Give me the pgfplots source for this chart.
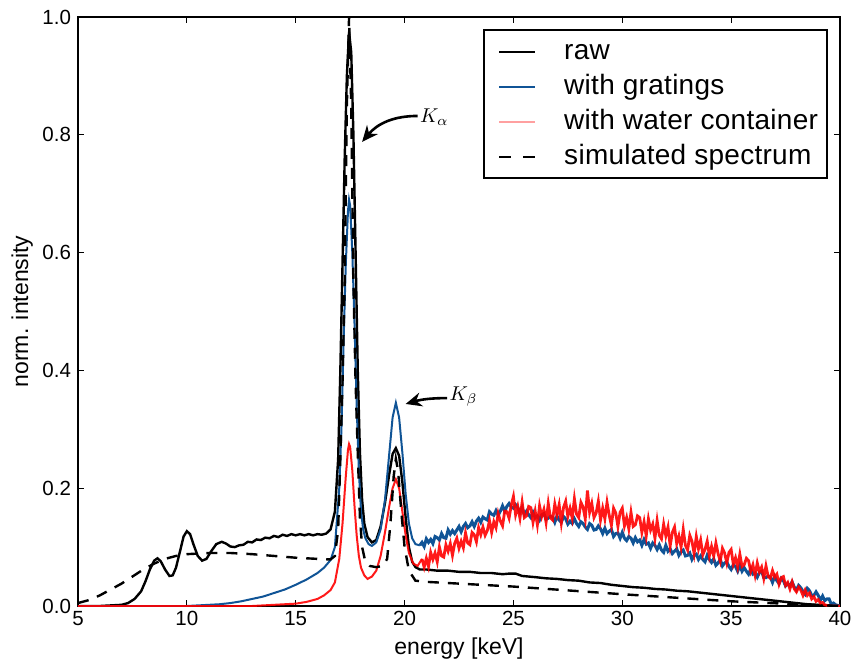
\documentclass[border=0pt]{standalone}
\usepackage{fontspec}
\setmainfont{Liberation Sans}
\usepackage{pgfplots}
\pgfplotsset{compat=1.18}
\usetikzlibrary{arrows.meta}
\definecolor{gblue}{RGB}{16,84,150}
\definecolor{wred}{RGB}{255,0,0}
\definecolor{wpink}{RGB}{255,160,160}
\begin{document}
\begin{tikzpicture}
\useasboundingbox (-39pt,-30pt) rectangle (387pt,303pt);
\begin{axis}[
  at={(0,0)}, anchor=south west,
  scale only axis, width=381pt, height=294.5pt,
  xmin=5, xmax=40, ymin=0, ymax=1,
  xtick={5,10,15,20,25,30,35,40},
  ytick={0,0.2,0.4,0.6,0.8,1},
  yticklabel style={/pgf/number format/fixed,/pgf/number format/fixed zerofill,/pgf/number format/precision=1},
  /pgf/number format/assume math mode=true,
  tick label style={font=\fontsize{10.25}{12}\selectfont},
  xticklabel style={yshift=1pt},
  tick align=inside, major tick length=3pt,
  every tick/.style={black, line width=0.5pt},
  axis line style={line width=1pt},
  xlabel={energy [keV]}, ylabel={norm. intensity},
  label style={font=\fontsize{11.5}{13}\selectfont},
  xlabel style={at={(axis description cs:0.5,0)}, anchor=north, yshift=-12.5pt},
  ylabel style={at={(axis description cs:-0.05,0.5)}, anchor=south},
  legend image code/.code={\path (0pt,0pt); \draw[#1] (3.5pt,0pt) -- (21.5pt,0pt);},
  legend style={at={(1,1)}, anchor=north east, xshift=-6pt, yshift=-6pt,
    draw=black, line width=1pt, inner xsep=3.5pt, inner ysep=3pt,
    row sep=2pt, column sep=13pt,
    font=\fontsize{14}{17}\selectfont\addfontfeature{LetterSpace=1},
    nodes={inner sep=1pt, text height=10.5pt, text depth=3pt}},
  legend cell align=left,
]
\addlegendimage{black, line width=1pt}
\addlegendimage{gblue, line width=1pt}
\addlegendimage{wpink, line width=1pt}
\addlegendimage{black, line width=1pt, dash pattern=on 6pt off 6pt}
\legend{raw, with gratings, with water container, simulated spectrum}

% raw
\addplot[forget plot, black, line width=1.2pt] coordinates {
(5,0)(6,0)(6.5,0.001)(7,0.002)(7.3,0.005)(7.6,0.012)(7.9,0.025)(8.1,0.042)(8.3,0.062)(8.5,0.077)(8.65,0.081)(8.8,0.076)(9.0,0.062)(9.2,0.051)(9.35,0.052)(9.5,0.065)(9.7,0.095)(9.85,0.118)(10.0,0.127)(10.15,0.122)(10.3,0.105)(10.5,0.085)(10.7,0.077)(10.9,0.080)(11.1,0.092)(11.35,0.105)(11.6,0.109)(11.8,0.106)(12.0,0.101)(12.2,0.100)(12.4,0.103)(12.6,0.104)(12.8,0.109)(13,0.108)(13.2,0.113)(13.4,0.112)(13.6,0.116)(13.8,0.115)(14,0.119)(14.2,0.117)(14.4,0.121)(14.6,0.119)(14.8,0.122)(15,0.120)(15.2,0.122)(15.4,0.120)(15.6,0.122)(15.8,0.120)(16,0.122)(16.2,0.121)(16.4,0.123)(16.6,0.130)(16.8,0.160)(16.95,0.25)(17.05,0.40)(17.15,0.58)(17.25,0.76)(17.35,0.90)(17.45,0.975)(17.55,0.94)(17.65,0.80)(17.75,0.60)(17.85,0.40)(17.95,0.26)(18.05,0.18)(18.15,0.14)(18.3,0.117)(18.5,0.108)(18.7,0.112)(18.9,0.135)(19.1,0.175)(19.3,0.225)(19.45,0.258)(19.6,0.268)(19.75,0.255)(19.9,0.21)(20.05,0.15)(20.2,0.10)(20.35,0.075)(20.5,0.066)(20.7,0.062)(21,0.062)(21.5,0.060)(22,0.060)(22.5,0.058)(23,0.058)(23.5,0.056)(24,0.056)(24.5,0.054)(24.8,0.055)(25.1,0.055)(25.4,0.051)(26,0.049)(26.5,0.047)(27,0.046)(27.5,0.044)(28,0.043)(28.5,0.040)(29,0.039)(29.5,0.036)(30,0.034)(30.5,0.032)(31,0.031)(31.5,0.029)(32,0.028)(32.5,0.026)(33,0.025)(33.5,0.023)(34,0.021)(34.5,0.019)(35,0.017)(35.5,0.015)(36,0.013)(36.5,0.011)(37,0.009)(37.5,0.007)(38,0.005)(38.5,0.003)(39,0.002)(39.5,0.001)(40,0)
};

% with gratings (peaks)
\addplot[forget plot, gblue, line width=1pt] coordinates {
(5,0)(10,0)(10.5,0.001)(11,0.002)(11.5,0.003)(12,0.005)(12.5,0.008)(13,0.012)(13.5,0.016)(14,0.022)(14.5,0.028)(15,0.036)(15.5,0.045)(16,0.056)(16.3,0.065)(16.6,0.078)(16.8,0.100)(17.0,0.20)(17.1,0.30)(17.2,0.45)(17.3,0.58)(17.4,0.67)(17.45,0.69)(17.5,0.68)(17.6,0.60)(17.7,0.48)(17.8,0.34)(17.9,0.23)(18.0,0.16)(18.1,0.13)(18.2,0.115)(18.35,0.105)(18.5,0.102)(18.7,0.108)(18.9,0.13)(19.1,0.18)(19.3,0.26)(19.45,0.32)(19.6,0.345)(19.75,0.32)(19.9,0.26)(20.05,0.19)(20.2,0.14)(20.35,0.115)(20.5,0.105)(20.7,0.103)
};
% with gratings (continuum, noisy)
\addplot[forget plot, gblue, line width=1.5pt] coordinates {
(20.7,0.103)(20.8,0.108)(20.9,0.101)(21.0,0.114)(21.1,0.108)(21.2,0.113)(21.3,0.106)(21.4,0.118)(21.5,0.116)(21.6,0.112)(21.7,0.123)
(21.8,0.116)(21.9,0.115)(22.0,0.129)(22.1,0.122)(22.2,0.128)(22.3,0.123)(22.4,0.129)(22.5,0.135)(22.6,0.126)(22.7,0.135)
(22.8,0.140)(22.9,0.133)(23.0,0.136)(23.1,0.143)(23.2,0.135)(23.3,0.144)(23.4,0.149)(23.5,0.142)(23.6,0.151)(23.7,0.148)
(23.8,0.146)(23.9,0.160)(24.0,0.156)(24.1,0.154)(24.2,0.162)(24.3,0.154)(24.4,0.161)(24.5,0.170)(24.6,0.161)(24.7,0.169)
(24.8,0.174)(24.9,0.168)(25.0,0.166)(25.1,0.172)(25.2,0.167)(25.3,0.159)(25.4,0.167)(25.5,0.155)(25.6,0.161)(25.7,0.155)
(25.8,0.150)(25.9,0.159)(26.0,0.150)(26.1,0.153)(26.2,0.146)(26.3,0.155)(26.4,0.157)(26.5,0.147)(26.6,0.149)(26.7,0.152)
(26.8,0.151)(26.9,0.142)(27.0,0.153)(27.1,0.146)(27.2,0.142)(27.3,0.152)(27.4,0.148)(27.5,0.139)(27.6,0.144)(27.7,0.140)
(27.8,0.148)(27.9,0.140)(28.0,0.135)(28.1,0.143)(28.2,0.140)(28.3,0.134)(28.4,0.130)(28.5,0.140)(28.6,0.137)(28.7,0.129)
(28.8,0.130)(28.9,0.136)(29.0,0.131)(29.1,0.123)(29.2,0.132)(29.3,0.123)(29.4,0.127)(29.5,0.130)(29.6,0.118)(29.7,0.123)
(29.8,0.124)(29.9,0.115)(30.0,0.125)(30.1,0.115)(30.2,0.111)(30.3,0.118)(30.4,0.115)(30.5,0.107)(30.6,0.116)(30.7,0.109)
(30.8,0.112)(30.9,0.103)(31.0,0.113)(31.1,0.105)(31.2,0.107)(31.3,0.098)(31.4,0.107)(31.5,0.103)(31.6,0.096)(31.7,0.104)
(31.8,0.095)(31.9,0.091)(32.0,0.103)(32.1,0.093)(32.2,0.097)(32.3,0.089)(32.4,0.093)(32.5,0.097)(32.6,0.086)(32.7,0.092)
(32.8,0.095)(32.9,0.085)(33.0,0.086)(33.1,0.090)(33.2,0.079)(33.3,0.086)(33.4,0.088)(33.5,0.079)(33.6,0.085)(33.7,0.079)
(33.8,0.075)(33.9,0.086)(34.0,0.079)(34.1,0.074)(34.2,0.080)(34.3,0.069)(34.4,0.073)(34.5,0.079)(34.6,0.068)(34.7,0.073)
(34.8,0.075)(34.9,0.067)(35.0,0.062)(35.1,0.070)(35.2,0.067)(35.3,0.059)(35.4,0.069)(35.5,0.059)(35.6,0.065)(35.7,0.059)
(35.8,0.054)(35.9,0.063)(36.0,0.054)(36.1,0.056)(36.2,0.049)(36.3,0.057)(36.4,0.059)(36.5,0.048)(36.6,0.048)(36.7,0.051)
(36.8,0.049)(36.9,0.040)(37.0,0.050)(37.1,0.043)(37.2,0.038)(37.3,0.047)(37.4,0.043)(37.5,0.034)(37.6,0.038)(37.7,0.034)
(37.8,0.041)(37.9,0.032)(38.0,0.027)(38.1,0.035)(38.2,0.031)(38.3,0.025)(38.4,0.020)(38.5,0.030)(38.6,0.026)(38.7,0.018)
(38.8,0.018)(38.9,0.024)(39.0,0.018)(39.1,0.010)(39.2,0.017)(39.3,0.009)(39.4,0.012)(39.5,0.012)(39.6,0.003)(39.7,0.005)(39.8,0.002)(39.9,0.001)(40.0,0.000)
};

% with water container (peaks)
\addplot[forget plot, wred, opacity=0.9, line width=1pt] coordinates {
(5,0)(13,0)(13.5,0.001)(14,0.002)(14.5,0.003)(15,0.004)(15.5,0.007)(16,0.012)(16.3,0.018)(16.6,0.027)(16.8,0.040)(17.0,0.080)(17.15,0.14)(17.3,0.22)(17.4,0.265)(17.45,0.275)(17.5,0.27)(17.6,0.23)(17.7,0.17)(17.8,0.12)(17.9,0.085)(18.0,0.065)(18.15,0.052)(18.3,0.046)(18.5,0.050)(18.7,0.060)(18.9,0.085)(19.1,0.125)(19.3,0.17)(19.45,0.20)(19.6,0.215)(19.75,0.20)(19.9,0.16)(20.05,0.12)(20.2,0.09)(20.4,0.072)(20.6,0.068)(20.8,0.080)
};
% with water container (continuum, noisy)
\addplot[forget plot, wred, opacity=0.9, line width=1.4pt] coordinates {
(20.8,0.080)(20.9,0.066)(21.0,0.081)(21.1,0.067)(21.2,0.091)(21.3,0.079)(21.4,0.090)(21.5,0.075)(21.6,0.100)(21.7,0.085)
(21.8,0.083)(21.9,0.104)(22.0,0.093)(22.1,0.106)(22.2,0.086)(22.3,0.106)(22.4,0.115)(22.5,0.098)(22.6,0.110)(22.7,0.099)
(22.8,0.124)(22.9,0.107)(23.0,0.104)(23.1,0.125)(23.2,0.121)(23.3,0.109)(23.4,0.133)(23.5,0.121)(23.6,0.134)(23.7,0.120)
(23.8,0.128)(23.9,0.145)(24.0,0.125)(24.1,0.143)(24.2,0.133)(24.3,0.157)(24.4,0.144)(24.5,0.136)(24.6,0.161)(24.7,0.160)
(24.8,0.149)(24.9,0.171)(25.0,0.186)(25.1,0.155)(25.2,0.169)(25.3,0.149)(25.4,0.176)(25.5,0.150)(25.6,0.153)(25.7,0.169)
(25.8,0.167)(25.9,0.142)(26.0,0.161)(26.1,0.138)(26.2,0.170)(26.3,0.152)(26.4,0.164)(26.5,0.142)(26.6,0.174)(26.7,0.150)
(26.8,0.146)(26.9,0.173)(27.0,0.155)(27.1,0.172)(27.2,0.141)(27.3,0.167)(27.4,0.178)(27.5,0.152)(27.6,0.166)(27.7,0.149)
(27.8,0.182)(27.9,0.156)(28.0,0.150)(28.1,0.176)(28.2,0.168)(28.3,0.148)(28.4,0.196)(28.5,0.159)(28.6,0.174)(28.7,0.150)
(28.8,0.158)(28.9,0.178)(29.0,0.146)(29.1,0.166)(29.2,0.148)(29.3,0.176)(29.4,0.154)(29.5,0.137)(29.6,0.166)(29.7,0.158)
(29.8,0.135)(29.9,0.159)(30.0,0.166)(30.1,0.136)(30.2,0.150)(30.3,0.131)(30.4,0.159)(30.5,0.135)(30.6,0.138)(30.7,0.153)
(30.8,0.150)(30.9,0.125)(31.0,0.143)(31.1,0.119)(31.2,0.148)(31.3,0.129)(31.4,0.139)(31.5,0.115)(31.6,0.145)(31.7,0.120)
(31.8,0.114)(31.9,0.139)(32.0,0.119)(32.1,0.134)(32.2,0.102)(32.3,0.125)(32.4,0.134)(32.5,0.106)(32.6,0.119)(32.7,0.100)
(32.8,0.130)(32.9,0.103)(33.0,0.095)(33.1,0.120)(33.2,0.110)(33.3,0.089)(33.4,0.118)(33.5,0.097)(33.6,0.112)(33.7,0.087)
(33.8,0.096)(33.9,0.110)(34.0,0.085)(34.1,0.101)(34.2,0.085)(34.3,0.107)(34.4,0.089)(34.5,0.076)(34.6,0.098)(34.7,0.090)
(34.8,0.073)(34.9,0.091)(35.0,0.096)(35.1,0.071)(35.2,0.082)(35.3,0.066)(35.4,0.088)(35.5,0.067)(35.6,0.070)(35.7,0.081)
(35.8,0.077)(35.9,0.059)(36.0,0.070)(36.1,0.052)(36.2,0.073)(36.3,0.058)(36.4,0.066)(36.5,0.047)(36.6,0.068)(36.7,0.050)
(36.8,0.047)(36.9,0.060)(37.0,0.049)(37.1,0.054)(37.2,0.037)(37.3,0.048)(37.4,0.050)(37.5,0.035)(37.6,0.040)(37.7,0.029)
(37.8,0.041)(37.9,0.029)(38.0,0.024)(38.1,0.032)(38.2,0.027)(38.3,0.018)(38.4,0.027)(38.5,0.018)(38.6,0.022)(38.7,0.012)
(38.8,0.016)(38.9,0.008)(39.0,0.011)(39.1,0.005)(39.2,0.006)(39.3,0.002)(39.4,0.001)(39.5,0.000)(40,0)
};

% simulated spectrum
\addplot[forget plot, black, line width=1.2pt, dash pattern=on 5.5pt off 4.5pt] coordinates {
(5,0.005)(5.5,0.010)(6,0.018)(6.5,0.028)(7,0.038)(7.5,0.050)(8,0.062)(8.5,0.072)(9,0.080)(9.5,0.085)(10,0.088)(11,0.090)(12,0.090)(13,0.088)(14,0.085)(15,0.082)(16,0.080)(16.6,0.079)(16.8,0.085)(16.95,0.13)(17.05,0.25)(17.15,0.38)(17.25,0.55)(17.35,0.85)(17.45,1.0)(17.55,0.85)(17.65,0.55)(17.75,0.38)(17.85,0.26)(17.95,0.15)(18.05,0.10)(18.2,0.075)(18.4,0.068)(18.7,0.066)(19.0,0.068)(19.2,0.080)(19.35,0.14)(19.5,0.22)(19.6,0.25)(19.7,0.23)(19.85,0.16)(20.0,0.10)(20.2,0.06)(20.5,0.043)(21,0.041)(22,0.039)(25,0.033)(30,0.020)(35,0.008)(38,0.003)(40,0)
};

\draw[-{Stealth[length=8pt,width=7pt]}, line width=1.3pt] (axis cs:20.6,0.832) to[bend right=25] (axis cs:18.05,0.788);
\draw[-{Stealth[length=8pt,width=7pt]}, line width=1.3pt] (axis cs:21.95,0.353) to[bend right=8] (axis cs:20.05,0.343);
\node[anchor=west, inner sep=0pt] at (axis cs:20.7,0.83) {\fontsize{10}{12}\selectfont$K_\alpha$};
\node[anchor=west, inner sep=0pt] at (axis cs:22.05,0.355) {\fontsize{10}{12}\selectfont$K_\beta$};
\end{axis}
\end{tikzpicture}
\end{document}
